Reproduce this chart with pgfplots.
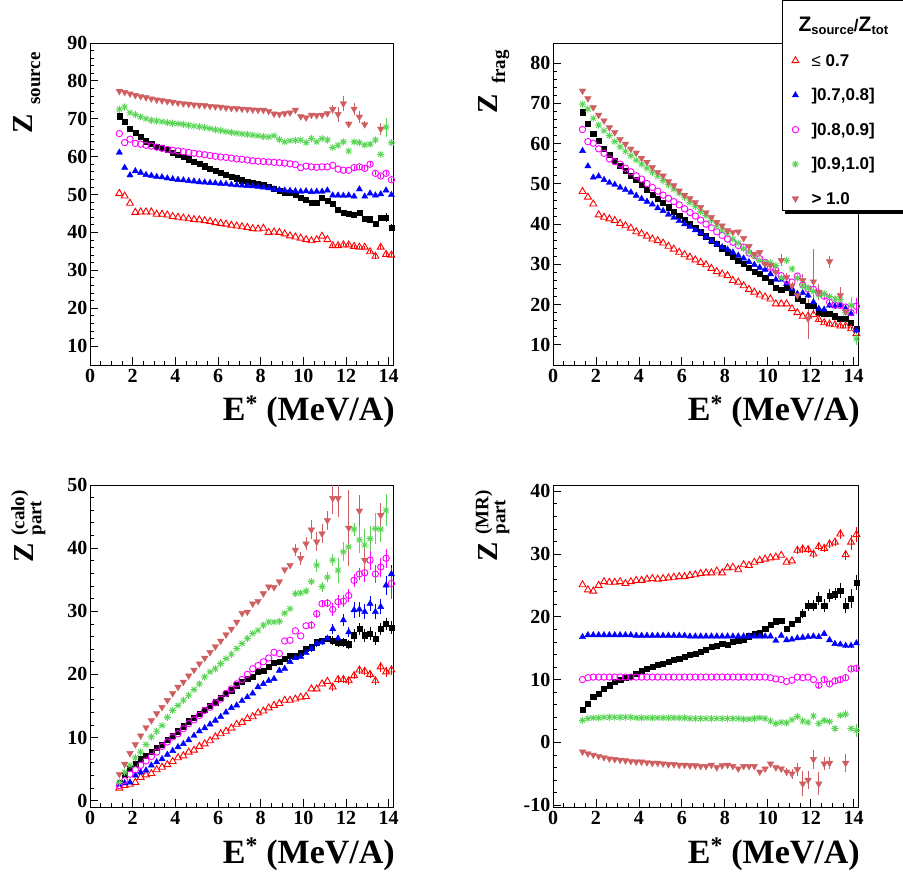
\documentclass[border=0pt]{standalone}
\usepackage{fontspec}
\setmainfont{Liberation Serif}
\newfontfamily\lsans{Liberation Sans}
\usepackage{pgfplots}
\usepackage{pgfplotstable}
\pgfplotsset{compat=1.18}
\usetikzlibrary{shadows}

\definecolor{rootred}{RGB}{255,0,0}
\definecolor{rootblue}{RGB}{0,0,255}
\definecolor{rootmag}{RGB}{255,0,255}
\definecolor{rootgreen}{RGB}{89,212,84}
\definecolor{rootinv}{RGB}{207,94,97}

\pgfdeclareplotmark{ast8}{%
  \pgfpathmoveto{\pgfqpoint{-\pgfplotmarksize}{0pt}}\pgfpathlineto{\pgfqpoint{\pgfplotmarksize}{0pt}}%
  \pgfpathmoveto{\pgfqpoint{0pt}{-\pgfplotmarksize}}\pgfpathlineto{\pgfqpoint{0pt}{\pgfplotmarksize}}%
  \pgfpathmoveto{\pgfqpoint{-0.707\pgfplotmarksize}{-0.707\pgfplotmarksize}}\pgfpathlineto{\pgfqpoint{0.707\pgfplotmarksize}{0.707\pgfplotmarksize}}%
  \pgfpathmoveto{\pgfqpoint{-0.707\pgfplotmarksize}{0.707\pgfplotmarksize}}\pgfpathlineto{\pgfqpoint{0.707\pgfplotmarksize}{-0.707\pgfplotmarksize}}%
  \pgfusepathqstroke}

\newcommand{\tlfont}{\bfseries\fontsize{20}{20}\selectfont}
\newcommand{\legfont}{\lsans\bfseries\fontsize{17}{17}\selectfont}

\pgfplotsset{
  panel/.style={scale only axis, xmin=0, xmax=14.2, xtick={0,2,...,14},
    minor x tick num=3, minor y tick num=4, tick align=inside, tick pos=left,
    major tick length=8pt, minor tick length=4pt,
    axis line style={line width=0.8pt},
    every tick/.style={line width=0.8pt, black},
    xticklabel={\tlfont\pgfmathprintnumber[assume math mode=true]{\tick}},
    yticklabel={\tlfont\pgfmathprintnumber[assume math mode=true]{\tick}},
    yticklabel style={inner xsep=2.5pt},
    xticklabel style={inner ysep=4pt}},
  ebar/.style={error bars/.cd, y dir=both, y explicit, error mark=none, error bar style={line width=0.8pt}, /pgfplots/.cd},
  mr/.style={only marks, mark=triangle, mark size=4pt, color=rootred, mark options={line width=0.9pt, fill=none}},
  mb/.style={only marks, mark=triangle*, mark size=3.6pt, color=rootblue, mark options={line width=0.4pt}},
  mm/.style={only marks, mark=o, mark size=3.2pt, color=rootmag, mark options={line width=0.9pt}},
  mg/.style={only marks, mark=ast8, mark size=3.6pt, color=rootgreen, mark options={line width=0.9pt}},
  mv/.style={only marks, mark=triangle*, mark size=3.8pt, color=rootinv, mark options={rotate=180, line width=0.4pt}},
  mk/.style={only marks, mark=square*, mark size=2.6pt, color=black, mark options={line width=0.4pt}},
}

\pgfplotstableread{
x r er b eb m em g eg v ev k ek
1.375 50.3 0 61.1 0 66.1 0 72.5 0 77.3 0 70.7 0
1.625 49.6 0 57.1 0 63.7 0 73.1 0 77.0 0 69.2 0
1.875 47.7 0 55.1 0 64.6 0 71.6 0 76.6 0 67.4 0
2.125 45.3 0 56.2 0 63.5 0 71.1 0 76.2 0 66.3 0
2.375 45.4 0 55.8 0 63.3 0 70.5 0 75.9 0 65.3 0
2.625 45.4 0 55.2 0 63.0 0 70.0 0 75.6 0 64.1 0
2.875 45.4 0 55.0 0 62.8 0 69.6 0 75.3 0 63.5 0
3.125 44.8 0 54.7 0 62.5 0 69.4 0 75.0 0 62.6 0
3.375 44.8 0 54.6 0 62.2 0 69.2 0 74.8 0 62.4 0
3.625 44.6 0 54.3 0 61.9 0 69.0 0 74.6 0 61.8 0
3.875 44.2 0 54.1 0 61.7 0 68.8 0 74.4 0 61.1 0
4.125 44.0 0 53.9 0 61.5 0 68.7 0 74.2 0 60.5 0
4.375 43.8 0 53.8 0 61.3 0 68.5 0 74.0 0 59.9 0
4.625 43.6 0 53.6 0 61.1 0 68.3 0 73.9 0 59.3 0
4.875 43.4 0 53.5 0 60.9 0 68.1 0 73.7 0 58.7 0
5.125 43.3 0 53.3 0 60.7 0 67.9 0 73.6 0 58.2 0
5.375 43.1 0 53.2 0 60.5 0 67.7 0 73.5 0 57.5 0
5.625 42.9 0 53.1 0 60.3 0 67.4 0 73.3 0 56.9 0
5.875 42.6 0 53.0 0 60.1 0 67.1 0 73.2 0 56.3 0
6.125 42.4 0 52.9 0 59.9 0 66.9 0 73.1 0 55.8 0
6.375 42.2 0 52.8 0 59.8 0 66.6 0 72.9 0 55.3 0
6.625 41.9 0 52.6 0 59.6 0 66.4 0 72.8 0 54.8 0
6.875 41.7 0 52.5 0 59.4 0 66.2 0 72.7 0 54.3 0
7.125 41.5 0 52.4 0 59.3 0 66.0 0 72.6 0 53.8 0
7.375 41.3 0 52.3 0 59.1 0 65.9 0 72.5 0 53.3 0
7.625 41.0 0 52.2 0 58.9 0 65.7 0 72.4 0 53.0 0
7.875 40.9 0 52.1 0 58.8 0 65.5 0 72.3 0 52.7 0
8.125 41.1 0 51.9 0 58.7 0 65.3 0 72.3 0 52.5 0
8.375 40.0 0 51.7 0 58.6 0 65.2 0 72.0 0 52.0 0
8.625 40.1 0 51.4 0 58.5 0 65.5 0 71.3 0 51.6 0
8.875 40.0 0 51.2 0 58.4 0 64.5 0 71.2 0 51.1 0
9.125 39.6 0 51.1 0 58.3 0 63.9 0 71.4 0 50.5 0
9.375 39.1 0 51.0 0 58.1 0 64.2 0 71.6 0 50.4 0
9.625 38.8 0 50.9 0 57.9 0 64.3 0 72.3 0 49.9 0
9.875 38.5 0 50.8 0 57.1 0 64.4 0 70.6 0 49.2 0
10.125 38.1 0 50.9 0 57.5 0 63.7 0 70.3 0 48.6 0
10.375 37.8 0 50.7 0 57.3 0 64.8 0 71.0 0 47.9 0
10.625 38.1 0 50.8 0 57.2 0 63.9 0 70.9 0 47.9 0
10.875 39.0 0 50.8 0 57.3 0 64.8 0 71.0 0 49.2 0
11.125 38.1 0 51.1 0 57.3 0 64.4 0 71.4 0 48.3 0
11.375 36.5 0.4 49.8 0 57.7 0 62.4 0.5 72.5 1.2 47.5 0
11.625 36.5 0.4 49.8 0 56.7 0 63.0 0.5 71.2 2.0 46.1 0
11.875 36.7 0.4 49.7 0 56.4 0 63.9 0.5 74.0 2.0 45.3 0
12.125 36.7 0.4 49.8 0 56.4 0 61.5 0.5 68.6 0.8 45.0 0
12.375 36.3 0.4 49.5 0.4 57.1 0.5 63.9 0.5 72.6 1.5 44.6 0
12.625 36.1 0.4 51.4 0.4 57.3 0.5 63.7 0.5 70.5 1.5 45.1 0
12.875 36.1 0.4 49.5 0.4 56.9 0.5 63.1 0.5 68.5 1.0 43.7 0.6
13.125 34.9 0.4 50.3 0.4 58.0 0.5 63.3 0.5 nan 0 43.5 0.6
13.375 33.7 0.6 49.8 0.4 55.6 0.5 64.4 0.8 nan 0 42.2 0.6
13.625 36.1 0.6 50.1 0.4 54.9 0.5 60.6 0.5 67.3 1.5 43.9 0.8
13.875 34.2 0.6 51.1 0.4 55.6 0.5 67.8 2.5 nan 0 43.9 1.2
14.125 34.0 0.6 49.9 0.4 53.9 0.5 63.7 0.8 nan 0 41.3 1.0
}\TLtab

\pgfplotstableread{
x r er b eb m em g eg v ev k ek
1.375 48.1 0 58.2 0 63.5 0 69.8 0 73.1 0 67.8 0
1.625 46.7 0 54.4 0 60.5 0 68.6 0 71.2 0 65.0 0
1.875 45.0 0 51.6 0 60.1 0 66.3 0 69.0 0 62.4 0
2.125 42.3 0 51.9 0 58.7 0 64.6 0 67.1 0 60.7 0
2.375 41.7 0 51.0 0 57.6 0 63.2 0 65.7 0 58.8 0
2.625 41.3 0 50.3 0 56.2 0 62.0 0 64.0 0 57.2 0
2.875 40.9 0 49.8 0 55.5 0 60.5 0 62.8 0 55.8 0
3.125 40.2 0 49.1 0 54.9 0 59.2 0 61.1 0 54.5 0
3.375 39.6 0 48.5 0 53.9 0 58.1 0 59.9 0 53.3 0
3.625 39.0 0 47.9 0 53.0 0 57.0 0 58.7 0 52.0 0
3.875 38.1 0 47.1 0 52.0 0 55.9 0 57.7 0 51.0 0
4.125 37.6 0 46.3 0 51.2 0 54.9 0 56.4 0 49.7 0
4.375 37.0 0 45.6 0 50.1 0 53.9 0 55.4 0 48.6 0
4.625 36.3 0 44.9 0 49.1 0 52.9 0 54.1 0 47.4 0
4.875 35.9 0 44.0 0 48.2 0 51.9 0 52.9 0 46.3 0
5.125 35.3 0 43.3 0 47.2 0 50.8 0 52.0 0 45.3 0
5.375 34.5 0 42.4 0 46.4 0 49.8 0 50.6 0 44.2 0
5.625 33.8 0 41.6 0 45.6 0 48.7 0 49.6 0 43.1 0
5.875 33.0 0 40.8 0 44.8 0 47.7 0 48.3 0 42.1 0
6.125 32.4 0 40.0 0 43.8 0 46.7 0 47.2 0 41.0 0
6.375 31.8 0 39.3 0 42.9 0 45.4 0 46.4 0 40.0 0
6.625 31.1 0 38.5 0 42.0 0 44.4 0 45.4 0 39.0 0
6.875 30.5 0 37.8 0 41.0 0 43.1 0 44.2 0 38.0 0
7.125 29.9 0 36.8 0 40.0 0 42.1 0 42.9 0 37.0 0
7.375 29.0 0 35.8 0 39.1 0 40.9 0 41.7 0 36.0 0
7.625 28.2 0 35.0 0 38.1 0 39.6 0 40.5 0 35.1 0
7.875 27.6 0 34.3 0 37.2 0 38.6 0 39.6 0 34.0 0
8.125 27.2 0 33.7 0 36.3 0 37.6 0 38.4 0 33.0 0
8.375 26.0 0 33.0 0 35.5 0 36.3 0 38.0 0 32.0 0
8.625 25.6 0 32.2 0 34.7 0 35.3 0 38.1 0 31.0 0
8.875 24.7 0 31.5 0 34.3 0 34.0 0 36.5 0 30.1 0
9.125 23.8 0 30.6 0 32.8 0 33.0 0 34.5 0 29.2 0
9.375 23.1 0 29.9 0 32.2 0 32.2 0 32.6 0 28.2 0
9.625 22.4 0 29.2 0 31.4 0 31.0 0 33.0 0 27.6 0
9.875 21.9 0 28.7 0 30.5 0 30.5 0 30.1 0 26.6 0
10.125 21.4 0 27.6 0 29.3 0 30.4 0 29.7 0 25.7 0
10.375 20.2 0 26.2 0 28.5 0 29.7 0 28.1 1 24.3 0
10.625 20.2 0 26.2 0 27.2 0 26.6 0.8 31.0 1.5 23.8 0
10.875 20.2 0 25.2 0 26.0 0 31.0 0.8 26.8 1 24.3 0
11.125 19.0 0 24.0 0 25.6 0 28.9 0.8 24.7 1 22.9 0
11.375 18.0 0 22.7 0.6 27.1 0.6 26.6 0.8 22.3 1 21.4 0
11.625 17.1 0 22.9 0.6 24.9 0.6 24.7 0.8 26.0 1.5 21.0 0
11.875 17.1 0 22.3 0.6 23.9 0.6 24.1 0.8 16.5 5 19.8 0
12.125 17.5 0 20.6 0.6 23.8 0.6 23.3 0.8 25.7 8 19.8 0
12.375 16.3 0.4 19.0 0.6 22.9 0.6 22.4 0.8 23.1 2 18.1 0.4
12.625 15.5 0.4 18.8 0.6 22.1 0.6 22.7 0.8 nan 0 17.7 0.4
12.875 15.2 0.4 19.8 0.6 20.6 0.6 22.0 0.8 30.7 1.5 17.7 0.4
13.125 15.0 0.4 19.6 0.6 19.9 0.6 21.4 0.8 nan 0 17.1 0.4
13.375 14.7 0.4 19.8 0.6 19.8 0.6 21.3 0.8 22.3 2 16.6 0.4
13.625 14.7 0.4 19.0 0.6 19.4 0.6 18.0 1 18.3 1.5 16.6 0.4
13.875 14.0 0.4 17.7 0.6 18.0 0.6 19.8 2 nan 0 15.6 0.4
14.125 12.8 0.4 13.6 1 19.6 2 11.5 1.5 nan 0 14.0 0.4
}\TRtab

\pgfplotstableread{
x r er b eb m em g eg v ev k ek
1.375 2.0 0 2.6 0 2.4 0 2.9 0 4.2 0 2.9 0
1.625 2.4 0 2.8 0 3.2 0 4.5 0 5.8 0 4.1 0
1.875 2.6 0 2.9 0 4.2 0 5.6 0 7.5 0 5.1 0
2.125 2.9 0 4.0 0 4.9 0 6.8 0 8.9 0 5.9 0
2.375 3.7 0 4.5 0 5.6 0 7.7 0 10.3 0 6.6 0
2.625 4.1 0 4.8 0 6.3 0 8.9 0 11.6 0 7.1 0
2.875 4.3 0 5.6 0 7.0 0 10.1 0 12.7 0 7.8 0
3.125 4.9 0 6.1 0 7.7 0 11.0 0 13.8 0 8.4 0
3.375 5.3 0 6.6 0 8.6 0 11.9 0 14.8 0 8.9 0
3.625 5.7 0 7.3 0 9.3 0 13.2 0 15.9 0 9.6 0
3.875 6.2 0 7.9 0 10.1 0 14.3 0 17.0 0 10.3 0
4.125 6.8 0 8.5 0 10.6 0 15.1 0 18.0 0 11.0 0
4.375 7.1 0 9.0 0 11.4 0 15.9 0 18.8 0 11.8 0
4.625 7.7 0 9.6 0 12.2 0 16.7 0 19.8 0 12.6 0
4.875 8.0 0 10.3 0 12.8 0 17.6 0 20.7 0 13.2 0
5.125 8.6 0 11.0 0 13.5 0 18.5 0 21.7 0 13.8 0
5.375 9.0 0 11.5 0 14.3 0 19.6 0 22.6 0 14.4 0
5.625 9.5 0 12.1 0 14.8 0 20.4 0 23.5 0 15.0 0
5.875 10.1 0 12.7 0 15.5 0 20.9 0 24.4 0 15.6 0
6.125 10.6 0 13.3 0 16.1 0 21.7 0 25.3 0 16.3 0
6.375 11.0 0 14.0 0 17.0 0 22.5 0 26.3 0 16.9 0
6.625 11.5 0 14.7 0 17.7 0 23.2 0 27.2 0 17.5 0
6.875 12.1 0 15.1 0 18.5 0 24.1 0 28.3 0 18.3 0
7.125 12.4 0 15.8 0 19.2 0 24.9 0 29.7 0 18.8 0
7.375 13.0 0 16.4 0 20.0 0 25.7 0 29.9 0 19.3 0
7.625 13.3 0 17.0 0 20.9 0 26.5 0 31.2 0 19.6 0
7.875 13.9 0 18.0 0 21.4 0 27.0 0 31.6 0 20.4 0
8.125 14.2 0 18.5 0 22.0 0 27.8 0 32.8 0 20.6 0
8.375 14.7 0 19.0 0 22.6 0 28.3 0 33.9 0 21.2 0
8.625 15.1 0 19.3 0 23.5 0 28.3 0 33.8 0 21.8 0
8.875 15.4 0 20.6 0 23.3 0 28.4 0 34.7 0 22.0 0
9.125 15.9 0 20.9 0 25.3 0 29.7 0 36.6 0 22.5 0
9.375 15.9 0 22.0 0 25.4 0 30.4 0 37.3 0 23.0 0
9.625 16.1 0 22.6 0 26.9 0 32.8 0.5 39.7 1 23.0 0
9.875 16.4 0 22.8 0 26.1 0 32.9 0.5 38.4 1 23.4 0
10.125 16.5 0 23.4 0 27.7 0 33.2 0.5 40.7 1 24.1 0
10.375 17.7 0 24.1 0.5 27.8 0.6 34.7 0.5 42.9 1.5 24.3 0
10.625 17.7 0 24.9 0.5 29.6 0.6 37.3 1 41.0 1.5 25.1 0
10.875 18.5 0 25.1 0.5 31.2 0.6 33.9 0.8 42.3 1.5 25.4 0
11.125 18.9 0 25.7 0.5 31.3 0.6 35.4 0.8 44.4 1.5 25.7 0
11.375 18.0 0.6 27.2 0.8 30.3 1 38.1 1 47.9 2.5 25.4 0.7
11.625 19.2 0.6 25.7 0.5 31.5 1 36.5 2 47.9 3 25.1 0.7
11.875 19.2 0.6 28.6 1 31.6 1 39.4 1.5 nan 0 25.1 0.7
12.125 19.0 0.6 26.7 0.8 32.5 1 40.2 2 43.2 6 24.8 0.7
12.375 19.8 0.6 30.2 1.2 34.9 1 43.0 1 nan 0 26.2 1
12.625 20.7 0.6 30.3 1.2 35.9 1 41.3 2 45.9 2.5 27.2 1
12.875 20.5 0.6 29.9 1.2 36.1 1.5 40.5 2.5 38.1 2 26.2 1
13.125 20.0 0.6 31.2 1.2 38.1 1.5 41.5 2 nan 0 26.5 1
13.375 19.0 0.6 29.9 1.2 35.9 1.5 43.1 2.5 nan 0 25.7 1
13.625 21.2 0.8 30.7 1.2 37.0 1.5 43.0 2 45.2 2 27.2 1
13.875 20.4 0.8 34.1 1.5 38.4 1.5 46.0 2.5 nan 0 28.0 1
14.125 20.7 0.8 35.9 1.5 34.4 2.5 nan 0 nan 0 27.4 1
}\BLtab

\pgfplotstableread{
x r er b eb m em g eg v ev k ek
1.375 25.1 0 16.8 0 10.0 0 3.5 0 -1.5 0 5.2 0
1.625 24.3 0 17.1 0 10.3 0 3.8 0 -1.8 0 6.1 0
1.875 24.1 0 17.1 0 10.4 0 3.9 0 -2.0 0 7.3 0
2.125 25.0 0 17.1 0 10.4 0 3.9 0 -2.2 0 7.8 0
2.375 25.6 0 17.1 0 10.4 0 4.0 0 -2.4 0 8.6 0
2.625 25.5 0 17.1 0 10.4 0 4.0 0 -2.6 0 9.1 0
2.875 25.5 0 17.1 0 10.4 0 4.0 0 -2.7 0 9.6 0
3.125 25.6 0 17.1 0 10.4 0 4.0 0 -2.8 0 10.0 0
3.375 25.3 0 17.1 0 10.4 0 4.0 0 -2.9 0 10.3 0
3.625 25.6 0 17.1 0 10.4 0 4.0 0 -3.0 0 10.5 0
3.875 25.8 0 17.0 0 10.4 0 3.9 0 -3.1 0 10.9 0
4.125 25.8 0 17.0 0 10.4 0 3.9 0 -3.1 0 11.4 0
4.375 26.0 0 17.0 0 10.4 0 3.9 0 -3.2 0 11.7 0
4.625 26.1 0 17.0 0 10.4 0 3.9 0 -3.3 0 12.0 0
4.875 26.0 0 17.0 0 10.4 0 3.9 0 -3.3 0 12.4 0
5.125 26.1 0 17.0 0 10.4 0 3.9 0 -3.4 0 12.5 0
5.375 26.2 0 17.0 0 10.4 0 3.9 0 -3.5 0 12.8 0
5.625 26.3 0 17.0 0 10.4 0 3.9 0 -3.5 0 13.2 0
5.875 26.4 0 17.0 0 10.4 0 3.9 0 -3.6 0 13.3 0
6.125 26.4 0 17.0 0 10.4 0 3.9 0 -3.6 0 13.6 0
6.375 26.6 0 16.9 0 10.4 0 3.8 0 -3.7 0 13.9 0
6.625 26.7 0 16.9 0 10.4 0 3.8 0 -3.7 0 14.1 0
6.875 26.9 0 16.9 0 10.4 0 3.8 0 -3.8 0 14.4 0
7.125 27.0 0 16.9 0 10.4 0 3.8 0 -3.8 0 14.7 0
7.375 27.0 0 16.9 0 10.4 0 3.8 0 -3.6 0 15.2 0
7.625 27.3 0 16.9 0 10.4 0 3.8 0 -4.0 0 15.4 0
7.875 27.0 0 16.9 0 10.4 0 3.8 0 -3.7 0 15.7 0
8.125 27.8 0 16.9 0 10.4 0 3.8 0 -3.6 0 15.6 0
8.375 27.9 0 16.9 0 10.4 0 3.8 0 -3.8 0 16.0 0
8.625 27.5 0 16.9 0 10.4 0 3.8 0 -4.2 0 16.2 0
8.875 28.3 0 16.9 0 10.4 0 3.7 0 -3.8 0 16.4 0
9.125 28.2 0 16.9 0 10.4 0 3.7 0 -3.8 0 16.9 0
9.375 28.7 0 16.9 0 10.4 0 3.8 0 -3.8 0 17.3 0
9.625 29.0 0 16.9 0 10.4 0 3.9 0 -4.7 0 17.4 0
9.875 29.2 0 16.9 0 10.4 0 3.8 0 -4.2 0 18.1 0
10.125 29.4 0 16.9 0 10.3 0 3.4 0 -3.4 0 18.8 0
10.375 29.5 0 16.2 0 10.1 0 3.0 0 -4.0 0 19.3 0.4
10.625 29.8 0 17.0 0 10.0 0 3.2 0 -4.2 0 19.4 0.4
10.875 28.7 0 16.3 0 9.7 0 3.1 0 -4.7 0.6 18.1 0.4
11.125 28.9 0 16.4 0 9.9 0 3.6 0 -5.0 0.8 18.9 0.4
11.375 30.6 0.6 16.6 0 10.4 0 4.1 0 -4.3 1 19.5 0.5
11.625 30.8 0.6 16.7 0 10.3 0 3.4 0 -6.6 2 20.5 0.7
11.875 30.7 0.6 16.8 0 10.4 0 3.2 0 -6.0 1.5 21.8 0.8
12.125 30.0 0.6 16.9 0 10.0 0 4.2 0 -2.7 1.5 21.8 0.8
12.375 31.2 0.6 16.8 0.3 9.1 0.4 3.0 0.4 -6.6 1.8 22.9 1
12.625 30.9 0.6 17.3 0.3 10.0 0.4 3.5 0.4 -3.4 1 21.8 1
12.875 31.6 0.6 16.3 0.3 9.3 0.4 3.3 0.4 -3.3 1 23.4 1
13.125 31.9 0.6 15.7 0.3 9.8 0.4 2.2 0.4 nan 0 23.6 1
13.375 33.2 0.8 15.6 0.3 10.0 0.4 4.3 0.4 nan 0 24.2 1.2
13.625 29.9 0.8 15.4 0.3 10.3 0.4 4.5 0.6 -3.3 1.5 21.8 1.2
13.875 31.9 1.2 15.4 0.3 11.7 0.4 2.2 0.4 nan 0 22.9 1.5
14.125 33.1 1.2 15.8 0.3 11.8 0.4 1.9 1.0 nan 0 25.4 1.2
}\BRtab

\newcommand{\allplots}[1]{%
  \addplot[forget plot, mk, ebar] table[x=x, y=k, y error=ek]{#1};
  \addplot[forget plot, mr, ebar] table[x=x, y=r, y error=er]{#1};
  \addplot[forget plot, mb, ebar] table[x=x, y=b, y error=eb]{#1};
  \addplot[forget plot, mm, ebar] table[x=x, y=m, y error=em]{#1};
  \addplot[forget plot, mg, ebar] table[x=x, y=g, y error=eg]{#1};
  \addplot[forget plot, mv, ebar] table[x=x, y=v, y error=ev]{#1};
}

\newcommand{\xlab}{\bfseries\fontsize{34}{34}\selectfont E\textsuperscript{*} (MeV/A)}
\newcommand{\legstrut}{\rule[-5pt]{0pt}{18pt}}
\newcommand{\legent}[1]{\makebox[92pt][l]{\legfont\legstrut #1}}
\newcommand{\zbig}{\fontsize{29}{29}\selectfont Z}
\newcommand{\zsub}[1]{\fontsize{19}{19}\selectfont #1}

\begin{document}
\begin{tikzpicture}
\useasboundingbox (0,0) rectangle (903pt,871pt);

% top left
\begin{axis}[panel, at={(90pt,506pt)}, anchor=south west, width=303pt, height=322pt,
  ymin=5, ymax=90, ytick={10,20,...,90}]
\allplots{\TLtab}
\end{axis}

% bottom left
\begin{axis}[panel, at={(90pt,64pt)}, anchor=south west, width=303pt, height=322pt,
  ymin=-1, ymax=50, ytick={0,10,...,50}]
\allplots{\BLtab}
\end{axis}

% bottom right
\begin{axis}[panel, at={(553pt,64pt)}, anchor=south west, width=305pt, height=322pt,
  ymin=-10.3, ymax=41, ytick={-10,0,...,40}]
\allplots{\BRtab}
\end{axis}

% top right with legend
\begin{axis}[panel, at={(553pt,506pt)}, anchor=south west, width=305pt, height=322pt,
  ymin=5, ymax=85, ytick={10,20,...,80},
  legend cell align=left,
  legend style={at={(0.7508,1.132)}, anchor=north west, draw=black, line width=0.8pt,
    fill=white, inner xsep=4.5pt, inner ysep=5pt, row sep=20pt, column sep=12.5pt,
    nodes={inner sep=0pt, anchor=west},
    drop shadow={shadow xshift=3pt, shadow yshift=-3pt, opacity=1, fill=black}}]
\allplots{\TRtab}
\addlegendimage{empty legend}
\addlegendentry{\hspace*{-13pt}\legfont\rule[-5pt]{0pt}{31pt}{\fontsize{21}{21}\selectfont Z}\raisebox{-3pt}{\fontsize{13}{13}\selectfont source}/{\fontsize{21}{21}\selectfont Z}\raisebox{-3pt}{\fontsize{13}{13}\selectfont tot}}
\addlegendimage{mr}
\addlegendentry{\legent{{\mdseries≤} 0.7}}
\addlegendimage{mb}
\addlegendentry{\legent{]0.7,0.8]}}
\addlegendimage{mm}
\addlegendentry{\legent{]0.8,0.9]}}
\addlegendimage{mg}
\addlegendentry{\legent{]0.9,1.0]}}
\addlegendimage{mv}
\addlegendentry{\legent{> 1.0}}
\end{axis}

% axis titles
\node[anchor=base east, inner sep=0pt] at (395pt,450pt) {\xlab};
\node[anchor=base east, inner sep=0pt] at (860pt,450pt) {\xlab};
\node[anchor=base east, inner sep=0pt] at (395pt,8pt) {\xlab};
\node[anchor=base east, inner sep=0pt] at (860pt,8pt) {\xlab};

\node[rotate=90, anchor=north east, inner sep=0pt] at (13pt,819pt)
  {\bfseries\zbig\hspace{10pt}\raisebox{-8pt}{\zsub{source}}};
\node[rotate=90, anchor=north east, inner sep=0pt] at (478pt,821pt)
  {\bfseries\zbig\hspace{10pt}\raisebox{-8pt}{\zsub{frag}}};
\node[rotate=90, anchor=north east, inner sep=0pt] at (11pt,381pt)
  {\bfseries\zbig\hspace{8pt}\rlap{\raisebox{-8pt}{\zsub{part}}}\raisebox{9pt}{\zsub{(calo)}}};
\node[rotate=90, anchor=north east, inner sep=0pt] at (475pt,381pt)
  {\bfseries\zbig\hspace{8pt}\rlap{\raisebox{-8pt}{\zsub{part}}}\raisebox{9pt}{\zsub{(MR)}}};
\end{tikzpicture}
\end{document}
